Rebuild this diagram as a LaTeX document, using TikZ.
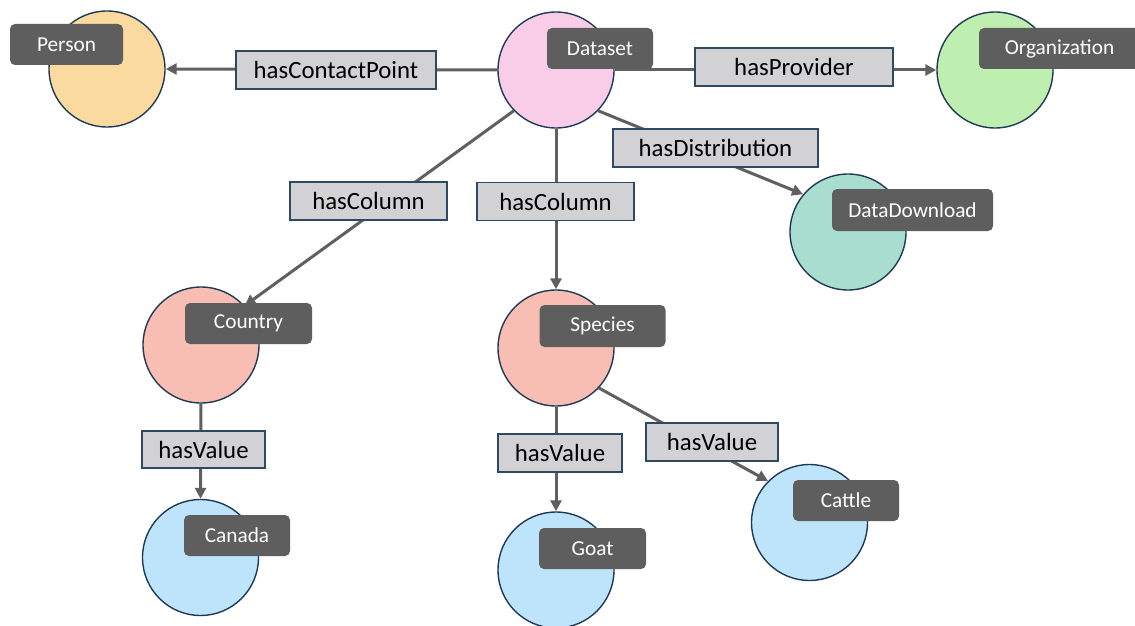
\documentclass[tikz,border=0pt]{standalone}
\usepackage{fontspec}
\setmainfont{Carlito}
\usetikzlibrary{arrows.meta}
\definecolor{cPerson}{HTML}{FADA9F}
\definecolor{cDataset}{HTML}{F9CDE8}
\definecolor{cOrg}{HTML}{BFEFB0}
\definecolor{cDD}{HTML}{A8DDD0}
\definecolor{cCol}{HTML}{F8BDB3}
\definecolor{cVal}{HTML}{BDE4FB}
\definecolor{cRing}{HTML}{1F3A55}
\definecolor{cTag}{HTML}{5E5E5E}
\definecolor{cLab}{HTML}{D2D1D3}
\definecolor{cLabBorder}{HTML}{2E4A62}
\definecolor{cEdge}{HTML}{606060}
\pgfdeclarelayer{paper}
\pgfdeclarelayer{edges}
\pgfsetlayers{paper,edges,main}
\tikzset{
  ent/.style={circle, draw=cRing, line width=1.4pt, minimum size=116pt, inner sep=0pt},
  tag/.style={rectangle, rounded corners=5pt, fill=cTag, text=white, minimum height=41pt, inner sep=0pt, font=\fontsize{21.3}{24}\selectfont},
  rel/.style={rectangle, draw=cLabBorder, fill=cLab, line width=1.4pt, text=black, minimum height=38pt, inner sep=0pt, font=\fontsize{24.8}{28}\selectfont},
  link/.style={draw=cEdge, line width=3pt},
  arr/.style={link, -{Triangle[length=11pt,width=11pt]}}
}
\begin{document}
\begin{tikzpicture}[x=1pt,y=-1pt]
\useasboundingbox (0,0) rectangle (1135,626);
\begin{pgfonlayer}{paper}
\fill[white] (0,0) rectangle (1135,626);
\end{pgfonlayer}
% entities
\node[ent, fill=cPerson]  (person)  at (107,69) {};
\node[ent, fill=cDataset] (dataset) at (556,70) {};
\node[ent, fill=cOrg]     (org)     at (995,70) {};
\node[ent, fill=cDD]      (dd)      at (848,232) {};
\node[ent, fill=cCol]     (country) at (201,345) {};
\node[ent, fill=cCol]     (species) at (556,348) {};
\node[ent, fill=cVal]     (canada)  at (200.5,557.5) {};
\node[ent, fill=cVal]     (goat)    at (556,570) {};
\node[ent, fill=cVal]     (cattle)  at (809.5,522.5) {};
% edges
\begin{pgfonlayer}{edges}
\draw[arr] (dataset.180) -- (person.0);
\draw[arr] (dataset.0) -- (org.180);
\draw[arr] (dataset.-44) -- (dd.140);
\draw[arr] (dataset.-136) -- (country.42.5);
\draw[arr] (dataset.-90) -- (species.90);
\draw[arr] (country.-90) -- (canada.90);
\draw[arr] (species.-90) -- (goat.90);
\draw[arr] (species.-43.6) -- (cattle.135);
\end{pgfonlayer}
% relation labels
\node[rel, minimum width=200pt] (l1) at (336,70) {hasContactPoint};
\node[rel, minimum width=198pt] (l2) at (794,67) {hasProvider};
\node[rel, minimum width=205pt] (l3) at (715.5,148) {hasDistribution};
\node[rel, minimum width=157pt] (l4) at (368.5,201) {hasColumn};
\node[rel, minimum width=157pt] (l5) at (555.5,201.5) {hasColumn};
\node[rel, minimum width=123pt, minimum height=37pt] (l6) at (203.5,449.5) {hasValue};
\node[rel, minimum width=124pt] (l7) at (560,453) {hasValue};
\node[rel, minimum width=132pt] (l8) at (712,442) {hasValue};
% name tags
\node[tag, minimum width=113pt] (tperson)  at (66.5,44.5) {Person};
\node[tag, minimum width=106pt] (tdataset) at (600,48.5) {Dataset};
\node[tag, minimum width=161pt] (torg)     at (1059.5,48.5) {Organization};
\node[tag, minimum width=161pt, minimum height=42pt] (tdd) at (912.5,210) {DataDownload};
\node[tag, minimum width=127pt] (tcountry) at (248.5,323.5) {Country};
\node[tag, minimum width=126pt, minimum height=42pt] (tspecies) at (602.5,326) {Species};
\node[tag, minimum width=106pt] (tcanada)  at (237,535.5) {Canada};
\node[tag, minimum width=107pt] (tgoat)    at (592.5,548.5) {Goat};
\node[tag, minimum width=106pt] (tcattle)  at (846,500.5) {Cattle};
\end{tikzpicture}
\end{document}
